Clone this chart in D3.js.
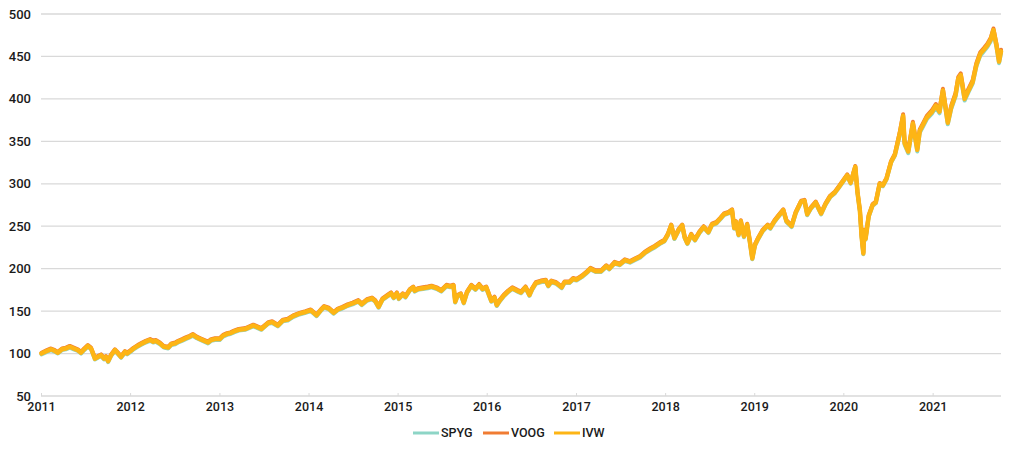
<!DOCTYPE html>
<html><head><meta charset="utf-8">
<script src="https://cdn.jsdelivr.net/npm/d3@7"></script>
<style>body{margin:0;background:#fff;} text{font-family:Roboto,"DejaVu Sans",sans-serif;}</style>
</head><body><svg id="c" width="1015" height="452"></svg>
<script>
const dates = [
"2011-01-03","2011-01-25","2011-02-11","2011-02-27","2011-03-11","2011-03-28","2011-04-13","2011-04-29","2011-05-15","2011-06-01","2011-06-14","2011-06-27","2011-07-12","2011-07-25","2011-08-02","2011-08-10","2011-08-22","2011-09-04","2011-09-16","2011-09-24","2011-10-03","2011-10-15","2011-10-31","2011-11-13","2011-11-25","2011-12-11","2011-12-20",
"2012-01-03","2012-01-16","2012-02-01","2012-02-20","2012-03-05","2012-03-23","2012-04-05","2012-04-15","2012-05-02","2012-05-18","2012-06-05","2012-06-18","2012-07-04","2012-07-16","2012-08-01","2012-08-16","2012-09-01","2012-09-14","2012-09-30","2012-10-15","2012-11-15","2012-11-28","2012-12-14",
"2013-01-02","2013-01-16","2013-02-01","2013-02-15","2013-03-02","2013-03-21","2013-04-18","2013-05-20","2013-06-22","2013-07-20","2013-08-05","2013-08-28","2013-09-18","2013-10-08","2013-10-30","2013-11-25","2013-12-20",
"2014-01-10","2014-02-03","2014-02-20","2014-03-06","2014-03-25","2014-04-14","2014-05-01","2014-05-20","2014-06-10","2014-07-01","2014-07-24","2014-08-07","2014-08-28","2014-09-18","2014-10-01","2014-10-15","2014-10-31","2014-11-20","2014-12-05","2014-12-16","2014-12-29",
"2015-01-06","2015-01-22","2015-02-02","2015-02-20","2015-03-06","2015-03-12","2015-03-25","2015-04-15","2015-05-05","2015-05-20","2015-06-10","2015-06-29","2015-07-20","2015-08-05","2015-08-18","2015-08-25","2015-09-03","2015-09-17","2015-09-29","2015-10-12","2015-10-30","2015-11-16","2015-12-01","2015-12-15","2015-12-30",
"2016-01-12","2016-01-20","2016-02-02","2016-02-11","2016-02-25","2016-03-10","2016-03-28","2016-04-15","2016-05-05","2016-05-20","2016-06-08","2016-06-24","2016-07-05","2016-07-20","2016-08-10","2016-08-30","2016-09-09","2016-09-22","2016-10-12","2016-11-03","2016-11-15","2016-12-05","2016-12-20",
"2017-01-03","2017-01-25","2017-02-15","2017-03-01","2017-03-22","2017-04-13","2017-05-05","2017-05-17","2017-06-08","2017-06-29","2017-07-20","2017-08-10","2017-08-30","2017-09-20","2017-10-10","2017-11-01","2017-11-20","2017-12-10","2017-12-29",
"2018-01-12","2018-01-26","2018-02-08","2018-02-26","2018-03-12","2018-03-22","2018-04-02","2018-04-18","2018-05-03","2018-05-22","2018-06-08","2018-06-27","2018-07-12","2018-07-30","2018-08-15","2018-08-30","2018-09-18","2018-10-02","2018-10-11","2018-10-18","2018-10-29","2018-11-07","2018-11-20","2018-12-03","2018-12-14","2018-12-24",
"2019-01-04","2019-01-18","2019-02-05","2019-02-25","2019-03-08","2019-03-25","2019-04-10","2019-04-30","2019-05-13","2019-06-03","2019-06-20","2019-07-12","2019-07-26","2019-08-06","2019-08-20","2019-09-10","2019-10-02","2019-10-20","2019-11-08","2019-11-28","2019-12-16",
"2020-01-02","2020-01-17","2020-01-31","2020-02-19","2020-02-28","2020-03-09","2020-03-16","2020-03-23","2020-03-26","2020-04-01","2020-04-14","2020-04-30","2020-05-13","2020-05-29","2020-06-11","2020-06-26","2020-07-15","2020-07-30","2020-08-20","2020-09-02","2020-09-08","2020-09-23","2020-10-12","2020-10-30","2020-11-09","2020-11-20","2020-12-08","2020-12-30",
"2021-01-14","2021-01-29","2021-02-12","2021-03-04","2021-03-18","2021-04-05","2021-04-16","2021-04-26","2021-05-12","2021-05-28","2021-06-14","2021-06-29","2021-07-15","2021-07-30","2021-08-13","2021-08-27","2021-09-07","2021-09-20","2021-09-30","2021-10-08"
];
const ivw = [
100,103,105,103,101,105,106,108,106,104,101,105,109,106,100,94,96,98,94,96,91,98,104,100,96,102,100,
103,106,109,112,114,116,114,115,112,108,107,111,112,114,116,118,120,122,119,117,113,116,117,
117,121,123,124,126,128,129,133,129,136,137,133,139,140,144,147,149,
151,145,151,155,153,148,152,154,157,159,162,158,163,165,162,155,164,168,171,166,171,
165,170,167,175,178,174,176,177,178,179,177,174,180,179,180,161,168,170,160,172,180,176,181,176,178,
168,162,166,157,163,168,173,177,174,172,178,169,176,183,185,186,180,185,183,178,184,184,188,
187,191,196,200,197,197,203,200,207,205,210,208,211,214,219,223,226,230,233,
240,251,236,246,251,237,230,240,234,243,249,243,252,254,259,264,266,269,248,255,240,256,238,252,232,212,
228,236,245,251,248,256,262,269,256,250,266,279,280,264,271,278,265,276,285,290,297,
304,310,301,320,290,268,238,218,245,235,262,275,278,300,298,306,326,334,360,380,348,338,371,340,362,368,378,385,
392,385,410,372,390,405,424,428,400,410,420,440,453,458,463,470,481,462,444,456
];
const voog = [
101,104,106,104,102,106,107,109,107,105,102,106,110,107,101,95,97,99,95,97,92,99,105,101,97,103,101,
104,107,110,113,115,117,115,116,113,109,108,112,113,115,117,119,121,123,120,118,114,117,118,
118,122,124,125,127,129,130,134,130,137,138,134,140,141,145,148,150,
152,146,152,156,154,149,153,155,158,160,163,159,164,166,163,156,165,169,172,167,172,
166,171,168,176,179,175,177,178,179,180,178,175,181,180,181,162,169,171,161,173,181,177,182,177,179,
169,163,167,158,164,169,174,178,175,173,179,170,177,184,186,187,181,186,184,179,185,185,189,
188,192,197,201,198,198,204,201,208,206,211,209,212,215,220,224,227,231,234,
241,252,237,247,252,238,231,241,235,244,250,244,253,255,260,265,267,270,249,256,241,257,239,253,233,213,
229,237,246,252,249,257,263,270,257,251,267,280,281,265,272,279,266,277,286,291,298,
305,311,302,321,291,269,239,219,246,236,263,276,279,301,299,307,327,335,362,382,350,340,373,342,364,370,380,387,
394,387,412,374,392,407,426,430,402,412,422,442,455,460,465,472,483,464,446,458
];
const spyg = [
99,102,104,102,100,104,105,107,105,103,100,104,108,105,99,93,95,97,93,95,90,97,103,99,95,101,99,
102,105,108,111,113,115,113,114,111,107,106,110,111,113,115,117,119,121,118,116,112,115,116,
116,120,122,123,125,127,128,132,128,135,136,132,138,139,143,146,148,
150,144,150,154,152,147,151,153,156,158,161,157,162,164,161,154,163,167,170,165,170,
164,169,166,174,177,173,175,176,177,178,176,173,179,178,179,160,167,169,159,171,179,175,180,175,177,
167,161,165,156,162,167,172,176,173,171,177,168,175,182,184,185,179,184,182,177,183,183,187,
186,190,195,199,196,196,202,199,206,204,209,207,210,213,218,222,225,229,232,
239,250,235,245,250,236,229,239,233,242,248,242,251,253,258,263,265,268,247,254,239,255,237,251,231,211,
227,235,244,250,247,255,261,268,255,249,265,278,279,263,270,277,264,275,284,289,296,
303,309,300,319,289,267,237,217,244,234,261,274,277,299,297,305,325,333,358,378,346,336,369,338,360,366,376,383,
390,383,408,370,388,403,422,426,398,408,418,438,451,456,461,468,479,460,442,454
];
const seriesNames = ["SPYG","VOOG","IVW"];
const seriesColors = ["#8dd5c6","#f07c33","#fdb515"];
const yTicks = [50,100,150,200,250,300,350,400,450,500];
const xTickYears = [2011,2012,2013,2014,2015,2016,2017,2018,2019,2020,2021];

const parse = d3.timeParse("%Y-%m-%d");
const dts = dates.map(parse);
const svg = d3.select("#c");
const x = d3.scaleTime().domain([new Date(2011,0,1), new Date(2021,9,8)]).range([41,1001]);
const y = d3.scaleLinear().domain([50,500]).range([396,14]);

svg.append("g").selectAll("line").data(yTicks).join("line")
  .attr("x1",41).attr("x2",1001).attr("y1",d=>y(d)).attr("y2",d=>y(d))
  .attr("stroke","#d9d9d9").attr("stroke-width",1.3);

svg.append("g").selectAll("text").data(yTicks).join("text")
  .attr("x",31).attr("y",d=>y(d)).attr("dy","0.35em").attr("text-anchor","end")
  .attr("font-size",13).attr("font-weight",500).attr("fill","#1a1a1a").text(d=>d);

const xAxis = d3.axisBottom(x).tickValues(xTickYears.map(yr=>new Date(yr,0,1)))
  .tickFormat(d3.timeFormat("%Y")).tickSize(3).tickPadding(3);
const gx = svg.append("g").attr("transform","translate(0,396)").call(xAxis);
gx.select(".domain").remove();
gx.selectAll(".tick line").attr("stroke","#d9d9d9").attr("y1",-3).attr("y2",0);
gx.selectAll(".tick text").attr("font-size",12.5).attr("font-weight",500).attr("fill","#1a1a1a")
  .attr("font-family","Roboto, sans-serif");

const allSeries = [spyg, voog, ivw];
const widths = [4, 4, 4.5];
const line = d3.line().x((d,i)=>x(dts[i])).y(d=>y(d));
allSeries.forEach((vals,k)=>{
  svg.append("path").datum(vals).attr("d",line).attr("fill","none")
    .attr("stroke",seriesColors[k]).attr("stroke-width",widths[k])
    .attr("stroke-linejoin","round").attr("stroke-linecap","round");
});

const legX = [413,483,554];
const leg = svg.append("g");
seriesNames.forEach((n,k)=>{
  leg.append("line").attr("x1",legX[k]).attr("x2",legX[k]+26).attr("y1",433).attr("y2",433)
    .attr("stroke",seriesColors[k]).attr("stroke-width",3);
  leg.append("text").attr("x",legX[k]+28).attr("y",433).attr("dy","0.35em")
    .attr("font-size",12.5).attr("font-weight",500).attr("fill","#1a1a1a").text(n);
});
</script></body></html>
